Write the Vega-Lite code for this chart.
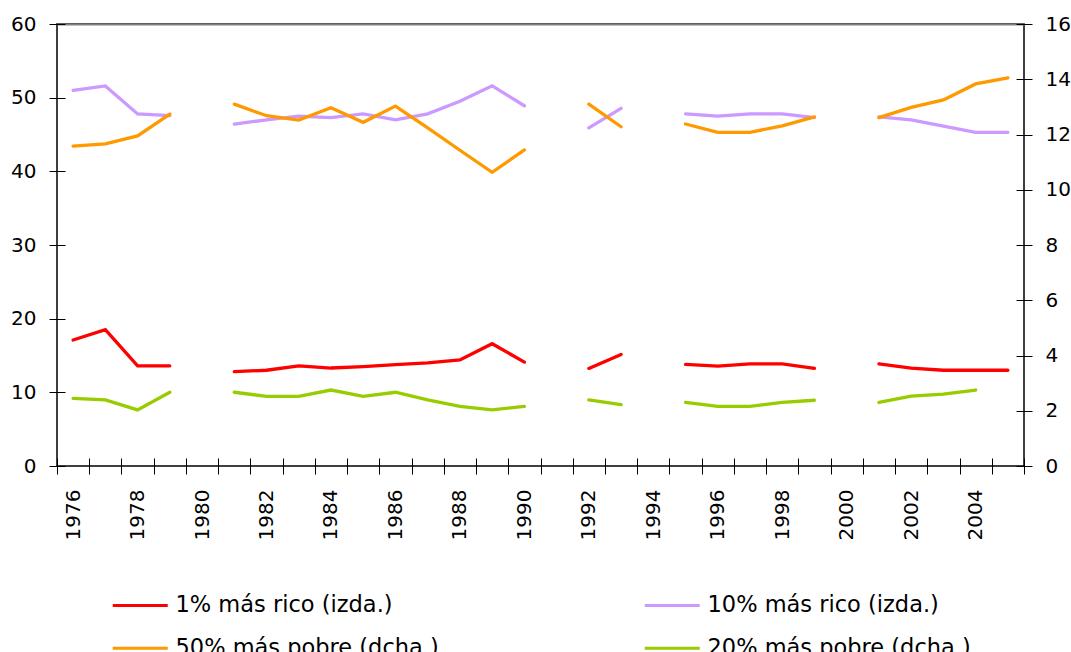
{
  "$schema": "https://vega.github.io/schema/vega-lite/v6.json",
  "width": 967,
  "height": 442,
  "autosize": {"type": "none"},
  "padding": {"left": 57, "top": 24, "right": 47, "bottom": 186},
  "background": "white",
  "config": {
    "font": "DejaVu Sans",
    "view": {"stroke": "black", "strokeWidth": 1.5},
    "axis": {"labelFont": "DejaVu Sans", "labelFontSize": 20, "labelColor": "black", "tickColor": "black", "tickWidth": 1, "grid": false, "title": null}
  },
  "datasets": {
    "d": [
      {"y":1976,"s":"1% más rico (izda.)","v":17.1},{"y":1977,"s":"1% más rico (izda.)","v":18.5},{"y":1978,"s":"1% más rico (izda.)","v":13.6},{"y":1979,"s":"1% más rico (izda.)","v":13.6},{"y":1980,"s":"1% más rico (izda.)","v":null},
      {"y":1981,"s":"1% más rico (izda.)","v":12.8},{"y":1982,"s":"1% más rico (izda.)","v":13.0},{"y":1983,"s":"1% más rico (izda.)","v":13.6},{"y":1984,"s":"1% más rico (izda.)","v":13.3},{"y":1985,"s":"1% más rico (izda.)","v":13.5},
      {"y":1986,"s":"1% más rico (izda.)","v":13.75},{"y":1987,"s":"1% más rico (izda.)","v":14.0},{"y":1988,"s":"1% más rico (izda.)","v":14.4},{"y":1989,"s":"1% más rico (izda.)","v":16.6},{"y":1990,"s":"1% más rico (izda.)","v":14.1},
      {"y":1991,"s":"1% más rico (izda.)","v":null},{"y":1992,"s":"1% más rico (izda.)","v":13.25},{"y":1993,"s":"1% más rico (izda.)","v":15.15},{"y":1994,"s":"1% más rico (izda.)","v":null},{"y":1995,"s":"1% más rico (izda.)","v":13.8},
      {"y":1996,"s":"1% más rico (izda.)","v":13.55},{"y":1997,"s":"1% más rico (izda.)","v":13.85},{"y":1998,"s":"1% más rico (izda.)","v":13.85},{"y":1999,"s":"1% más rico (izda.)","v":13.25},{"y":2000,"s":"1% más rico (izda.)","v":null},
      {"y":2001,"s":"1% más rico (izda.)","v":13.85},{"y":2002,"s":"1% más rico (izda.)","v":13.3},{"y":2003,"s":"1% más rico (izda.)","v":13.0},{"y":2004,"s":"1% más rico (izda.)","v":13.0},{"y":2005,"s":"1% más rico (izda.)","v":13.0},

      {"y":1976,"s":"10% más rico (izda.)","v":51.0},{"y":1977,"s":"10% más rico (izda.)","v":51.6},{"y":1978,"s":"10% más rico (izda.)","v":47.8},{"y":1979,"s":"10% más rico (izda.)","v":47.55},{"y":1980,"s":"10% más rico (izda.)","v":null},
      {"y":1981,"s":"10% más rico (izda.)","v":46.4},{"y":1982,"s":"10% más rico (izda.)","v":47.0},{"y":1983,"s":"10% más rico (izda.)","v":47.5},{"y":1984,"s":"10% más rico (izda.)","v":47.3},{"y":1985,"s":"10% más rico (izda.)","v":47.8},
      {"y":1986,"s":"10% más rico (izda.)","v":47.0},{"y":1987,"s":"10% más rico (izda.)","v":47.8},{"y":1988,"s":"10% más rico (izda.)","v":49.5},{"y":1989,"s":"10% más rico (izda.)","v":51.6},{"y":1990,"s":"10% más rico (izda.)","v":48.9},
      {"y":1991,"s":"10% más rico (izda.)","v":null},{"y":1992,"s":"10% más rico (izda.)","v":45.9},{"y":1993,"s":"10% más rico (izda.)","v":48.55},{"y":1994,"s":"10% más rico (izda.)","v":null},{"y":1995,"s":"10% más rico (izda.)","v":47.8},
      {"y":1996,"s":"10% más rico (izda.)","v":47.5},{"y":1997,"s":"10% más rico (izda.)","v":47.8},{"y":1998,"s":"10% más rico (izda.)","v":47.8},{"y":1999,"s":"10% más rico (izda.)","v":47.3},{"y":2000,"s":"10% más rico (izda.)","v":null},
      {"y":2001,"s":"10% más rico (izda.)","v":47.4},{"y":2002,"s":"10% más rico (izda.)","v":47.0},{"y":2003,"s":"10% más rico (izda.)","v":46.15},{"y":2004,"s":"10% más rico (izda.)","v":45.3},{"y":2005,"s":"10% más rico (izda.)","v":45.3},

      {"y":1976,"s":"50% más pobre (dcha.)","v":11.58},{"y":1977,"s":"50% más pobre (dcha.)","v":11.66},{"y":1978,"s":"50% más pobre (dcha.)","v":11.95},{"y":1979,"s":"50% más pobre (dcha.)","v":12.74},{"y":1980,"s":"50% más pobre (dcha.)","v":null},
      {"y":1981,"s":"50% más pobre (dcha.)","v":13.1},{"y":1982,"s":"50% más pobre (dcha.)","v":12.68},{"y":1983,"s":"50% más pobre (dcha.)","v":12.52},{"y":1984,"s":"50% más pobre (dcha.)","v":12.97},{"y":1985,"s":"50% más pobre (dcha.)","v":12.44},
      {"y":1986,"s":"50% más pobre (dcha.)","v":13.03},{"y":1987,"s":"50% más pobre (dcha.)","v":12.24},{"y":1988,"s":"50% más pobre (dcha.)","v":11.43},{"y":1989,"s":"50% más pobre (dcha.)","v":10.63},{"y":1990,"s":"50% más pobre (dcha.)","v":11.44},
      {"y":1991,"s":"50% más pobre (dcha.)","v":null},{"y":1992,"s":"50% más pobre (dcha.)","v":13.1},{"y":1993,"s":"50% más pobre (dcha.)","v":12.28},{"y":1994,"s":"50% más pobre (dcha.)","v":null},{"y":1995,"s":"50% más pobre (dcha.)","v":12.38},
      {"y":1996,"s":"50% más pobre (dcha.)","v":12.08},{"y":1997,"s":"50% más pobre (dcha.)","v":12.08},{"y":1998,"s":"50% más pobre (dcha.)","v":12.31},{"y":1999,"s":"50% más pobre (dcha.)","v":12.64},{"y":2000,"s":"50% más pobre (dcha.)","v":null},
      {"y":2001,"s":"50% más pobre (dcha.)","v":12.61},{"y":2002,"s":"50% más pobre (dcha.)","v":12.98},{"y":2003,"s":"50% más pobre (dcha.)","v":13.25},{"y":2004,"s":"50% más pobre (dcha.)","v":13.83},{"y":2005,"s":"50% más pobre (dcha.)","v":14.05},

      {"y":1976,"s":"20% más pobre (dcha.)","v":2.45},{"y":1977,"s":"20% más pobre (dcha.)","v":2.39},{"y":1978,"s":"20% más pobre (dcha.)","v":2.03},{"y":1979,"s":"20% más pobre (dcha.)","v":2.67},{"y":1980,"s":"20% más pobre (dcha.)","v":null},
      {"y":1981,"s":"20% más pobre (dcha.)","v":2.67},{"y":1982,"s":"20% más pobre (dcha.)","v":2.52},{"y":1983,"s":"20% más pobre (dcha.)","v":2.52},{"y":1984,"s":"20% más pobre (dcha.)","v":2.75},{"y":1985,"s":"20% más pobre (dcha.)","v":2.52},
      {"y":1986,"s":"20% más pobre (dcha.)","v":2.67},{"y":1987,"s":"20% más pobre (dcha.)","v":2.39},{"y":1988,"s":"20% más pobre (dcha.)","v":2.16},{"y":1989,"s":"20% más pobre (dcha.)","v":2.03},{"y":1990,"s":"20% más pobre (dcha.)","v":2.16},
      {"y":1991,"s":"20% más pobre (dcha.)","v":null},{"y":1992,"s":"20% más pobre (dcha.)","v":2.39},{"y":1993,"s":"20% más pobre (dcha.)","v":2.22},{"y":1994,"s":"20% más pobre (dcha.)","v":null},{"y":1995,"s":"20% más pobre (dcha.)","v":2.3},
      {"y":1996,"s":"20% más pobre (dcha.)","v":2.16},{"y":1997,"s":"20% más pobre (dcha.)","v":2.16},{"y":1998,"s":"20% más pobre (dcha.)","v":2.3},{"y":1999,"s":"20% más pobre (dcha.)","v":2.38},{"y":2000,"s":"20% más pobre (dcha.)","v":null},
      {"y":2001,"s":"20% más pobre (dcha.)","v":2.3},{"y":2002,"s":"20% más pobre (dcha.)","v":2.53},{"y":2003,"s":"20% más pobre (dcha.)","v":2.6},{"y":2004,"s":"20% más pobre (dcha.)","v":2.75},{"y":2005,"s":"20% más pobre (dcha.)","v":null}
    ]
  },
  "data": {"name": "d"},
  "layer": [
    {
      "transform": [{"filter": {"field": "s", "oneOf": ["1% más rico (izda.)", "10% más rico (izda.)"]}}],
      "mark": {"type": "line", "strokeWidth": 3.3, "strokeCap": "round", "invalid": "break-paths-show-domains"},
      "encoding": {
        "x": {
          "field": "y", "type": "ordinal", "bandPosition": 0.5,
          "scale": {"type": "band", "paddingInner": 0, "paddingOuter": 0,
            "domain": [1976,1977,1978,1979,1980,1981,1982,1983,1984,1985,1986,1987,1988,1989,1990,1991,1992,1993,1994,1995,1996,1997,1998,1999,2000,2001,2002,2003,2004,2005]},
          "axis": {"orient": "bottom", "title": null, "tickBand": "extent", "offset": -8, "tickSize": 16, "domain": false,
            "labelAngle": -90, "labelPadding": 15, "labelOverlap": false,
            "labelExpr": "datum.value % 2 === 0 ? datum.label : ''"}
        },
        "y": {
          "field": "v", "type": "quantitative",
          "scale": {"domain": [0, 60], "nice": false},
          "axis": {"orient": "left", "title": null, "values": [0,10,20,30,40,50,60], "offset": -8, "tickSize": 16, "domain": false, "labelPadding": 13}
        },
        "color": {
          "field": "s", "type": "nominal",
          "scale": {
            "domain": ["1% más rico (izda.)", "50% más pobre (dcha.)", "10% más rico (izda.)", "20% más pobre (dcha.)"],
            "range": ["#FF0000", "#FF9900", "#CC99FF", "#99CC00"]
          },
          "legend": {
            "title": null, "orient": "none", "legendX": 72, "legendY": 570, "columns": 2,
            "symbolType": "M-4,0H4", "symbolSize": 189, "symbolStrokeWidth": 3,
            "labelFont": "DejaVu Sans", "labelFontSize": 22.5, "labelColor": "black", "labelLimit": 600,
            "labelOffset": 24, "columnPadding": 199, "rowPadding": 20, "padding": 0
          }
        }
      }
    },
    {
      "transform": [{"filter": {"field": "s", "oneOf": ["50% más pobre (dcha.)", "20% más pobre (dcha.)"]}}],
      "mark": {"type": "line", "strokeWidth": 3.3, "strokeCap": "round", "invalid": "break-paths-show-domains"},
      "encoding": {
        "x": {
          "field": "y", "type": "ordinal", "bandPosition": 0.5,
          "scale": {"type": "band", "paddingInner": 0, "paddingOuter": 0,
            "domain": [1976,1977,1978,1979,1980,1981,1982,1983,1984,1985,1986,1987,1988,1989,1990,1991,1992,1993,1994,1995,1996,1997,1998,1999,2000,2001,2002,2003,2004,2005]},
          "axis": {"orient": "top", "title": null, "domain": true, "domainColor": "#808080", "domainWidth": 2, "ticks": false, "labels": false}
        },
        "y": {
          "field": "v", "type": "quantitative",
          "scale": {"domain": [0, 16], "nice": false},
          "axis": {"orient": "right", "title": null, "values": [0,2,4,6,8,10,12,14,16], "offset": -8, "tickSize": 16, "domain": false, "labelPadding": 13}
        },
        "color": {"field": "s", "type": "nominal"}
      }
    }
  ],
  "resolve": {"scale": {"y": "independent"}, "axis": {"y": "independent", "x": "independent"}}
}
